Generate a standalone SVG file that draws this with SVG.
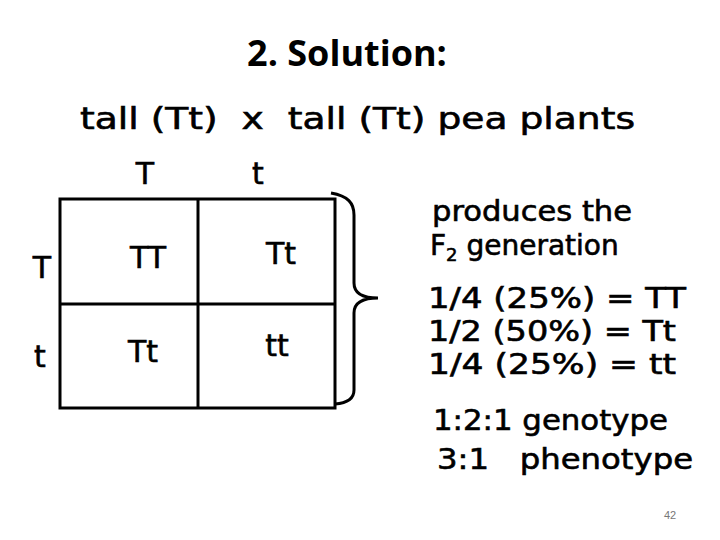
<svg xmlns="http://www.w3.org/2000/svg" width="720" height="540" viewBox="0 0 720 540">
<style>
.c{font-family:"DejaVu Sans","Liberation Sans",sans-serif;fill:#000;stroke:#000;stroke-width:0.6}
.l{font-size:30px}
.g{fill:none;stroke:#000;stroke-width:3}
</style>
<rect width="720" height="540" fill="#fff"/>
<text x="347" y="66" text-anchor="middle" font-family="Open Sans,Liberation Sans,sans-serif" font-weight="bold" font-size="36">2. Solution:</text>
<text class="c" x="80" y="129" font-size="30" textLength="555" lengthAdjust="spacingAndGlyphs" xml:space="preserve">tall (Tt)  x  tall (Tt) pea plants</text>
<text class="c l" x="145" y="184" text-anchor="middle">T</text>
<text class="c l" x="258" y="184" text-anchor="middle">t</text>
<g id="grid">
<rect class="g" x="60" y="199" width="275" height="209"/>
<line class="g" x1="198" y1="199" x2="198" y2="408"/>
<line class="g" x1="60" y1="304" x2="335" y2="304"/>
</g>
<g id="labels">
<text class="c l" x="42" y="278" text-anchor="middle">T</text>
<text class="c l" x="40" y="367" text-anchor="middle">t</text>
<text class="c l" x="148" y="268" text-anchor="middle">TT</text>
<text class="c l" x="281" y="264" text-anchor="middle">Tt</text>
<text class="c l" x="143" y="362" text-anchor="middle">Tt</text>
<text class="c l" x="277" y="356" text-anchor="middle">tt</text>
</g>
<g id="connectors">
<path class="g" d="M331,193 C348,196 354,203 354,215 L354,283 C354,292 360,298 378,298 C360,298 354,304 354,313 L354,390 C354,398 348,403 335,404"/>
</g>
<g id="result" class="c" font-size="28" lengthAdjust="spacingAndGlyphs">
<text x="432" y="221" textLength="200" lengthAdjust="spacingAndGlyphs">produces the</text>
<text x="430" y="255">F<tspan font-size="18" dy="6">2</tspan><tspan dy="-6"> generation</tspan></text>
<text x="428" y="308" textLength="258" lengthAdjust="spacingAndGlyphs" xml:space="preserve">1/4 (25%) = TT</text>
<text x="428" y="341" textLength="248" lengthAdjust="spacingAndGlyphs" xml:space="preserve">1/2 (50%) = Tt</text>
<text x="428" y="374" textLength="248" lengthAdjust="spacingAndGlyphs" xml:space="preserve">1/4 (25%) = tt</text>
<text x="433" y="430" textLength="235" lengthAdjust="spacingAndGlyphs" xml:space="preserve">1:2:1 genotype</text>
<text x="437" y="469" textLength="256" lengthAdjust="spacingAndGlyphs" xml:space="preserve">3:1   phenotype</text>
</g>
<text x="670" y="519" text-anchor="middle" font-family="Liberation Sans,sans-serif" font-size="11" fill="#777">42</text>
</svg>
